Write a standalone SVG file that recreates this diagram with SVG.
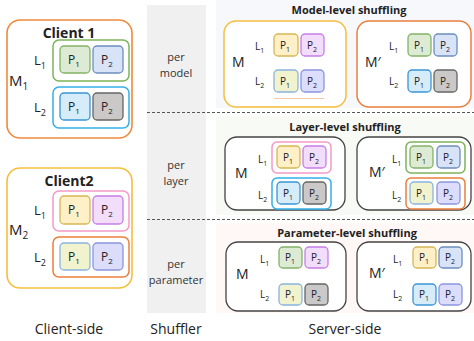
<svg xmlns="http://www.w3.org/2000/svg" width="474" height="341" viewBox="0 0 474 341">
<style>
text{font-family:"Open Sans","DejaVu Sans",sans-serif;fill:#222}
.t{font-size:14px;text-anchor:middle}
.sh{font-size:11px;text-anchor:middle;fill:#333}
.ttl{font-size:11px;font-weight:bold;text-anchor:middle}
.cl{font-size:14px;font-weight:bold;text-anchor:middle}
.lc{font-size:13px}
.pc{font-size:12px;text-anchor:middle}
.ls{font-size:10px}
.ps{font-size:10px;text-anchor:middle}
.ms{font-size:14px}
.grp{fill:none;stroke-width:1.5}
.p{stroke-width:1.3}
.green{fill:#DDEBD5;stroke:#82B366}
.blue{fill:#D9E3F7;stroke:#6C8EBF}
.cyan{fill:#D6ECF9;stroke:#3A95D6}
.gray{fill:#CBC9C7;stroke:#666}
.yel{fill:#FFF0C8;stroke:#D6B656}
.pur{fill:#F2DDFB;stroke:#C67FE6}
.yg{fill:#F1F3CE;stroke:#8AB4DE}
.lav{fill:#DCDDFA;stroke:#8B96DE}
.dash{stroke:#555;stroke-width:1.2;stroke-dasharray:3,2;fill:none}
</style>
<rect width="474" height="341" fill="#fff"/>
<rect x="147" y="5" width="59" height="308" fill="#F0F0F0"/>
<rect x="216" y="0" width="258" height="108" fill="#F7F8FC"/>
<rect x="216" y="116" width="258" height="99" fill="#F8FAF6"/>
<rect x="216" y="223" width="258" height="90" fill="#FFF8F7"/>
<g id="connectors">
<line class="dash" x1="147" y1="112.5" x2="474" y2="112.5"/>
<line class="dash" x1="147" y1="219.5" x2="474" y2="219.5"/>
</g>
<g id="client1">
<rect x="7" y="20" width="125" height="118" rx="13" fill="#fff" stroke="#F08A3C" stroke-width="1.6"/>
<text class="cl" x="69" y="38">Client 1</text>
<text class="ms" x="9" y="86" style="font-size:15px">M<tspan dy="4" font-size="10">1</tspan></text>
<text class="lc" x="34" y="65">L<tspan dy="4" font-size="9">1</tspan></text>
<text class="lc" x="34" y="112">L<tspan dy="4" font-size="9">2</tspan></text>
<rect class="grp" x="53" y="40" width="76" height="41" rx="6" stroke="#7CB45A"/>
<rect class="p green" x="60" y="46" width="30" height="27" rx="4"/>
<rect class="p blue" x="93" y="46" width="30" height="27" rx="4"/>
<text class="pc" x="74" y="64">P<tspan dy="3" font-size="8">1</tspan></text>
<text class="pc" x="107" y="64">P<tspan dy="3" font-size="8">2</tspan></text>
<rect class="grp" x="53" y="87" width="76" height="41" rx="6" stroke="#33B0E8"/>
<rect class="p cyan" x="60" y="93" width="30" height="27" rx="4"/>
<rect class="p gray" x="93" y="93" width="30" height="27" rx="4"/>
<text class="pc" x="74" y="111">P<tspan dy="3" font-size="8">1</tspan></text>
<text class="pc" x="107" y="111">P<tspan dy="3" font-size="8">2</tspan></text>
</g>
<g id="client2">
<rect x="7" y="168" width="125" height="120" rx="13" fill="#fff" stroke="#F5BE3C" stroke-width="1.6"/>
<text class="cl" x="69" y="186">Client2</text>
<text class="ms" x="9" y="235" style="font-size:15px">M<tspan dy="4" font-size="10">2</tspan></text>
<text class="lc" x="34" y="215">L<tspan dy="4" font-size="9">1</tspan></text>
<text class="lc" x="34" y="262">L<tspan dy="4" font-size="9">2</tspan></text>
<rect class="grp" x="53" y="191" width="76" height="40" rx="6" stroke="#F59AC8"/>
<rect class="p yel" x="60" y="196" width="30" height="28" rx="4"/>
<rect class="p pur" x="93" y="196" width="30" height="28" rx="4"/>
<text class="pc" x="74" y="214">P<tspan dy="3" font-size="8">1</tspan></text>
<text class="pc" x="107" y="214">P<tspan dy="3" font-size="8">2</tspan></text>
<rect class="grp" x="53" y="237" width="76" height="40" rx="6" stroke="#EA7F3C"/>
<rect class="p yg" x="60" y="243" width="30" height="27" rx="4"/>
<rect class="p lav" x="93" y="243" width="30" height="27" rx="4"/>
<text class="pc" x="74" y="261">P<tspan dy="3" font-size="8">1</tspan></text>
<text class="pc" x="107" y="261">P<tspan dy="3" font-size="8">2</tspan></text>
</g>
<g id="labels">
<text class="t" x="69" y="334">Client-side</text>
<text class="t" x="176" y="334">Shuffler</text>
<text class="t" x="345" y="334">Server-side</text>
<text class="sh" x="176" y="61">per</text>
<text class="sh" x="176" y="77">model</text>
<text class="sh" x="176" y="169">per</text>
<text class="sh" x="176" y="185">layer</text>
<text class="sh" x="176" y="268">per</text>
<text class="sh" x="176" y="284">parameter</text>
<text class="ttl" x="349" y="14">Model-level shuffling</text>
<text class="ttl" x="345" y="131">Layer-level shuffling</text>
<text class="ttl" x="347" y="237">Parameter-level shuffling</text>
</g>
<g id="model-M">
<rect x="224" y="21" width="122" height="86" rx="12" fill="#fff" stroke="#F5BE3C" stroke-width="1.5"/>
<text class="ms" x="232" y="67">M</text>
<text class="ls" x="255" y="50">L<tspan dy="3" font-size="7">1</tspan></text>
<text class="ls" x="255" y="85">L<tspan dy="3" font-size="7">2</tspan></text>
<rect class="p yel" x="274" y="34" width="24" height="22" rx="4"/>
<rect class="p pur" x="301" y="34" width="23" height="22" rx="4"/>
<rect class="p yg" x="274" y="70" width="24" height="22" rx="4"/>
<rect class="p lav" x="301" y="70" width="23" height="22" rx="4"/>
<line x1="274" y1="98.5" x2="324" y2="98.5" stroke="#F5C9A8" stroke-width="1"/>
<text class="ps" x="285" y="49">P<tspan dy="3" font-size="7">1</tspan></text>
<text class="ps" x="312" y="49">P<tspan dy="3" font-size="7">2</tspan></text>
<text class="ps" x="285" y="85">P<tspan dy="3" font-size="7">1</tspan></text>
<text class="ps" x="312" y="85">P<tspan dy="3" font-size="7">2</tspan></text>
</g>
<g id="model-M2">
<rect x="357" y="21" width="114" height="86" rx="12" fill="#fff" stroke="#EA7F3C" stroke-width="1.5"/>
<text class="ms" x="365" y="67">M′</text>
<text class="ls" x="389" y="50">L<tspan dy="3" font-size="7">1</tspan></text>
<text class="ls" x="389" y="85">L<tspan dy="3" font-size="7">2</tspan></text>
<rect class="p green" x="408" y="34" width="23" height="22" rx="4"/>
<rect class="p blue" x="434" y="34" width="23" height="22" rx="4"/>
<rect class="p cyan" x="408" y="70" width="23" height="22" rx="4"/>
<rect class="p gray" x="434" y="70" width="23" height="22" rx="4"/>
<text class="ps" x="419" y="49">P<tspan dy="3" font-size="7">1</tspan></text>
<text class="ps" x="445" y="49">P<tspan dy="3" font-size="7">2</tspan></text>
<text class="ps" x="419" y="85">P<tspan dy="3" font-size="7">1</tspan></text>
<text class="ps" x="445" y="85">P<tspan dy="3" font-size="7">2</tspan></text>
</g>
<g id="layer-M">
<rect x="225" y="137" width="120" height="73" rx="12" fill="#fff" stroke="#444" stroke-width="1.3"/>
<text class="ms" x="235" y="178">M</text>
<text class="ls" x="258" y="163">L<tspan dy="3" font-size="7">1</tspan></text>
<text class="ls" x="258" y="199">L<tspan dy="3" font-size="7">2</tspan></text>
<rect class="grp" x="272" y="142" width="59" height="31" rx="5" stroke="#F59AC8" stroke-width="1.2"/>
<rect class="p yel" x="277" y="146" width="23" height="22" rx="4"/>
<rect class="p pur" x="303" y="146" width="23" height="22" rx="4"/>
<rect class="grp" x="272" y="178" width="59" height="31" rx="5" stroke="#33B0E8" stroke-width="1.2"/>
<rect class="p cyan" x="277" y="182" width="23" height="22" rx="4"/>
<rect class="p gray" x="303" y="182" width="23" height="22" rx="4"/>
<text class="ps" x="288" y="161">P<tspan dy="3" font-size="7">1</tspan></text>
<text class="ps" x="314" y="161">P<tspan dy="3" font-size="7">2</tspan></text>
<text class="ps" x="288" y="197">P<tspan dy="3" font-size="7">1</tspan></text>
<text class="ps" x="314" y="197">P<tspan dy="3" font-size="7">2</tspan></text>
</g>
<g id="layer-M2">
<rect x="357" y="137" width="114" height="73" rx="12" fill="#fff" stroke="#444" stroke-width="1.3"/>
<text class="ms" x="369" y="177">M′</text>
<text class="ls" x="392" y="163">L<tspan dy="3" font-size="7">1</tspan></text>
<text class="ls" x="392" y="199">L<tspan dy="3" font-size="7">2</tspan></text>
<rect class="grp" x="406" y="142" width="59" height="31" rx="5" stroke="#7CB45A" stroke-width="1.2"/>
<rect class="p green" x="410" y="146" width="23" height="22" rx="4"/>
<rect class="p blue" x="437" y="146" width="23" height="22" rx="4"/>
<rect class="grp" x="406" y="178" width="59" height="31" rx="5" stroke="#EA7F3C" stroke-width="1.2"/>
<rect class="p yg" x="410" y="182" width="23" height="22" rx="4"/>
<rect class="p lav" x="437" y="182" width="23" height="22" rx="4"/>
<text class="ps" x="421" y="161">P<tspan dy="3" font-size="7">1</tspan></text>
<text class="ps" x="448" y="161">P<tspan dy="3" font-size="7">2</tspan></text>
<text class="ps" x="421" y="197">P<tspan dy="3" font-size="7">1</tspan></text>
<text class="ps" x="448" y="197">P<tspan dy="3" font-size="7">2</tspan></text>
</g>
<g id="param-M">
<rect x="226" y="242" width="120" height="69" rx="12" fill="#fff" stroke="#444" stroke-width="1.3"/>
<text class="ms" x="236" y="279">M</text>
<text class="ls" x="260" y="263">L<tspan dy="3" font-size="7">1</tspan></text>
<text class="ls" x="260" y="298">L<tspan dy="3" font-size="7">2</tspan></text>
<rect class="p green" x="279" y="247" width="23" height="21" rx="4"/>
<rect class="p pur" x="305" y="247" width="23" height="21" rx="4"/>
<rect class="p yg" x="279" y="284" width="23" height="21" rx="4"/>
<rect class="p gray" x="305" y="284" width="23" height="21" rx="4"/>
<text class="ps" x="290" y="261">P<tspan dy="3" font-size="7">1</tspan></text>
<text class="ps" x="316" y="261">P<tspan dy="3" font-size="7">2</tspan></text>
<text class="ps" x="290" y="298">P<tspan dy="3" font-size="7">1</tspan></text>
<text class="ps" x="316" y="298">P<tspan dy="3" font-size="7">2</tspan></text>
</g>
<g id="param-M2">
<rect x="357" y="242" width="114" height="69" rx="12" fill="#fff" stroke="#444" stroke-width="1.3"/>
<text class="ms" x="369" y="278">M′</text>
<text class="ls" x="393" y="263">L<tspan dy="3" font-size="7">1</tspan></text>
<text class="ls" x="393" y="298">L<tspan dy="3" font-size="7">2</tspan></text>
<rect class="p yel" x="413" y="247" width="23" height="21" rx="4"/>
<rect class="p blue" x="439" y="247" width="23" height="21" rx="4"/>
<rect class="p cyan" x="413" y="284" width="23" height="21" rx="4"/>
<rect class="p lav" x="439" y="284" width="23" height="21" rx="4"/>
<text class="ps" x="424" y="261">P<tspan dy="3" font-size="7">1</tspan></text>
<text class="ps" x="450" y="261">P<tspan dy="3" font-size="7">2</tspan></text>
<text class="ps" x="424" y="298">P<tspan dy="3" font-size="7">1</tspan></text>
<text class="ps" x="450" y="298">P<tspan dy="3" font-size="7">2</tspan></text>
</g>
</svg>
